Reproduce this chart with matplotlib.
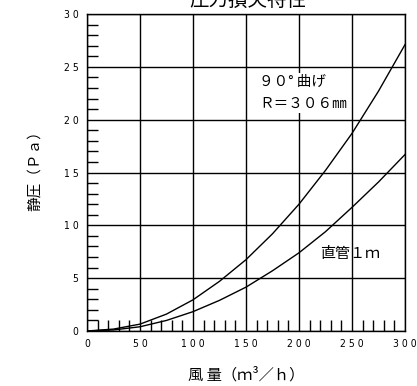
import numpy as np
import matplotlib
matplotlib.use("Agg")
import matplotlib.pyplot as plt
from matplotlib.ticker import MultipleLocator

plt.rcParams['font.family'] = ['Noto Sans CJK JP', 'DejaVu Sans']

# 風量 (m3/h)
flow = [0, 25, 50, 75, 100, 125, 150, 175, 200, 225, 250, 275, 300]
# 90° 曲げ R=306mm
bend = [0, 0.18, 0.65, 1.6, 2.95, 4.7, 6.75, 9.2, 12.0, 15.2, 18.7, 22.7, 27.1]
# 直管 1m
straight = [0, 0.1, 0.4, 1.0, 1.83, 2.9, 4.15, 5.7, 7.4, 9.4, 11.7, 14.1, 16.7]

xticks = [0, 50, 100, 150, 200, 250, 300]
yticks = [0, 5, 10, 15, 20, 25, 30]

fig = plt.figure(figsize=(4.17, 3.86), dpi=100)
ax = fig.add_axes([0.2086, 0.1425, 0.7626, 0.8212])

ax.plot(flow, bend, color='black', lw=1.0)
ax.plot(flow, straight, color='black', lw=1.0)

ax.set_xlim(0, 300)
ax.set_ylim(0, 30)
ax.set_xticks(xticks)
ax.set_yticks(yticks)
tick_font = dict(fontsize=7.5, fontstretch='condensed', family=['DejaVu Sans'])
ax.set_xticklabels([' '.join(str(t)) for t in xticks], **tick_font)
ax.set_yticklabels([' '.join(str(t)) for t in yticks], **tick_font)
ax.xaxis.set_minor_locator(MultipleLocator(10))
ax.yaxis.set_minor_locator(MultipleLocator(1))
ax.tick_params(which='major', length=0, pad=6)
ax.tick_params(which='minor', direction='in', length=8, width=1.0, color='black')
ax.grid(True, which='major', color='black', lw=1.0)
for s in ax.spines.values():
    s.set_linewidth(1.0)

# label box over the grid cell
ax.text(0.542, 0.75, "９０° 曲げ\nＲ＝３０６㎜", transform=ax.transAxes, fontsize=10.5,
        ha='left', va='center', linespacing=1.75,
        bbox=dict(facecolor='white', edgecolor='none', pad=1.5))
ax.text(0.734, 0.243, "直管１ｍ", transform=ax.transAxes, fontsize=10.8, ha='left', va='center')

fig.text(0.595, 0.998, "圧力損失特性", fontsize=14, ha='center', va='center')
fig.text(0.59, 0.028, "風 量（ｍ³／ｈ）", fontsize=11, ha='center', va='center')
fig.text(0.083, 0.567, "静圧（Ｐａ）", fontsize=10.5, ha='center', va='center', rotation=90)

fig.savefig("out.png", dpi=100)
